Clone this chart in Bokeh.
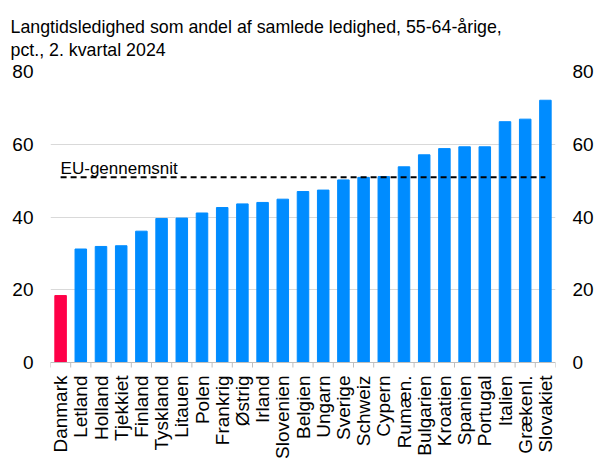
import numpy as np
from math import pi
from bokeh.plotting import figure
from bokeh.models import Range1d, FixedTicker, LinearAxis, Label, LabelSet, ColumnDataSource
from bokeh.core.properties import value
from bokeh.embed import file_html
from bokeh.resources import INLINE

# ---- data ----
countries = ["Danmark", "Letland", "Holland", "Tjekkiet", "Finland", "Tyskland",
             "Litauen", "Polen", "Frankrig", "Østrig", "Irland", "Slovenien",
             "Belgien", "Ungarn", "Sverige", "Schweiz", "Cypern", "Rumæn.",
             "Bulgarien", "Kroatien", "Spanien", "Portugal", "Italien",
             "Grækenl.", "Slovakiet"]
values = [18.4, 31.2, 31.9, 32.1, 36.1, 39.6, 39.7, 41.1, 42.6, 43.6, 44.0, 44.9,
          47.0, 47.4, 50.2, 50.9, 51.1, 53.8, 57.1, 58.8, 59.3, 59.3, 66.2, 66.9, 72.1]
eu_average = 50.9
eu_label = "EU-gennemsnit"
highlight = "Danmark"
y_ticks = [0, 20, 40, 60, 80]
title_text = "Langtidsledighed som andel af samlede ledighed, 55-64-årige,\npct., 2. kvartal 2024"

FONT = "Liberation Sans"
BLUE = "#008CFF"
RED = "#FF0048"
GRID = "#d9d9d9"
AXIS = "#bfbfbf"

W, H = 597, 459
TOP, LEFT, RIGHT = 71, 50, 42
PLOT_PX = 291                    # pixels from y=0 to y=80
below_px = H - TOP - PLOT_PX     # room under the zero line for category labels
span = y_ticks[-1] - y_ticks[0]
y_lo = y_ticks[0] - span * below_px / PLOT_PX

n = len(countries)
idx = list(range(n))
boundaries = [i - 0.5 for i in range(n + 1)]
colors = [RED if c == highlight else BLUE for c in countries]
base = [y_ticks[0]] * n

src = ColumnDataSource(dict(x=idx, top=values, base=base, color=colors, name=countries))
bsrc = ColumnDataSource(dict(x=boundaries, y=[y_ticks[0]] * len(boundaries)))

p = figure(width=W, height=H, output_backend="svg", toolbar_location=None,
           x_range=Range1d(boundaries[0], boundaries[-1]),
           y_range=Range1d(y_lo, y_ticks[-1]),
           min_border_left=LEFT, min_border_right=RIGHT, min_border_top=TOP,
           min_border_bottom=0, title=title_text)
p.outline_line_color = None
p.background_fill_color = "white"

p.title.text_font = FONT
p.title.text_font_size = "17.8px"
p.title.text_font_style = "normal"
p.title.text_color = "#000000"
p.title.text_line_height = 1.15
p.title.align = "left"
p.title.offset = -40
p.title.standoff = 24

# gridlines only at the labelled values
p.xgrid.grid_line_color = None
p.ygrid.ticker = FixedTicker(ticks=y_ticks)
p.ygrid.grid_line_color = GRID
p.ygrid.grid_line_width = 1.2

# bars
p.vbar(x="x", top="top", bottom="base", width=0.57, color="color", source=src)

# category axis: line at zero, ticks at category boundaries
p.segment(x0=boundaries[0], x1=boundaries[-1], y0=y_ticks[0], y1=y_ticks[0],
          line_color=AXIS, line_width=1)
p.ray(x="x", y="y", length=5, length_units="screen", angle=-pi / 2,
      line_color=AXIS, line_width=1, source=bsrc)
p.add_layout(LabelSet(x="x", y="base", text="name", source=src, angle=pi / 2,
                      text_align="right", text_baseline="middle", y_offset=-13,
                      text_font=value(FONT), text_font_size="19px",
                      text_color="#000000"))

# EU average line
p.line(x=[idx[0], idx[-1]], y=[eu_average, eu_average], line_color="black",
       line_width=2, line_dash="6 4")
p.add_layout(Label(x=idx[0], y=eu_average, text=eu_label, text_font=FONT,
                   text_font_size="17px", text_align="left",
                   text_baseline="alphabetic", y_offset=9, text_color="#000000"))

p.xaxis.visible = False

# y axes (left and right)
ya = p.yaxis[0]
ya2 = LinearAxis()
p.add_layout(ya2, "right")
for ax in (ya, ya2):
    ax.ticker = FixedTicker(ticks=y_ticks)
    ax.axis_line_color = None
    ax.major_tick_line_color = None
    ax.minor_tick_line_color = None
    ax.major_tick_out = 0
    ax.major_tick_in = 0
    ax.major_label_text_font = FONT
    ax.major_label_text_font_size = "19px"
    ax.major_label_text_color = "#000000"
    ax.major_label_standoff = 17

open("out.html", "w").write(file_html(p, INLINE))
